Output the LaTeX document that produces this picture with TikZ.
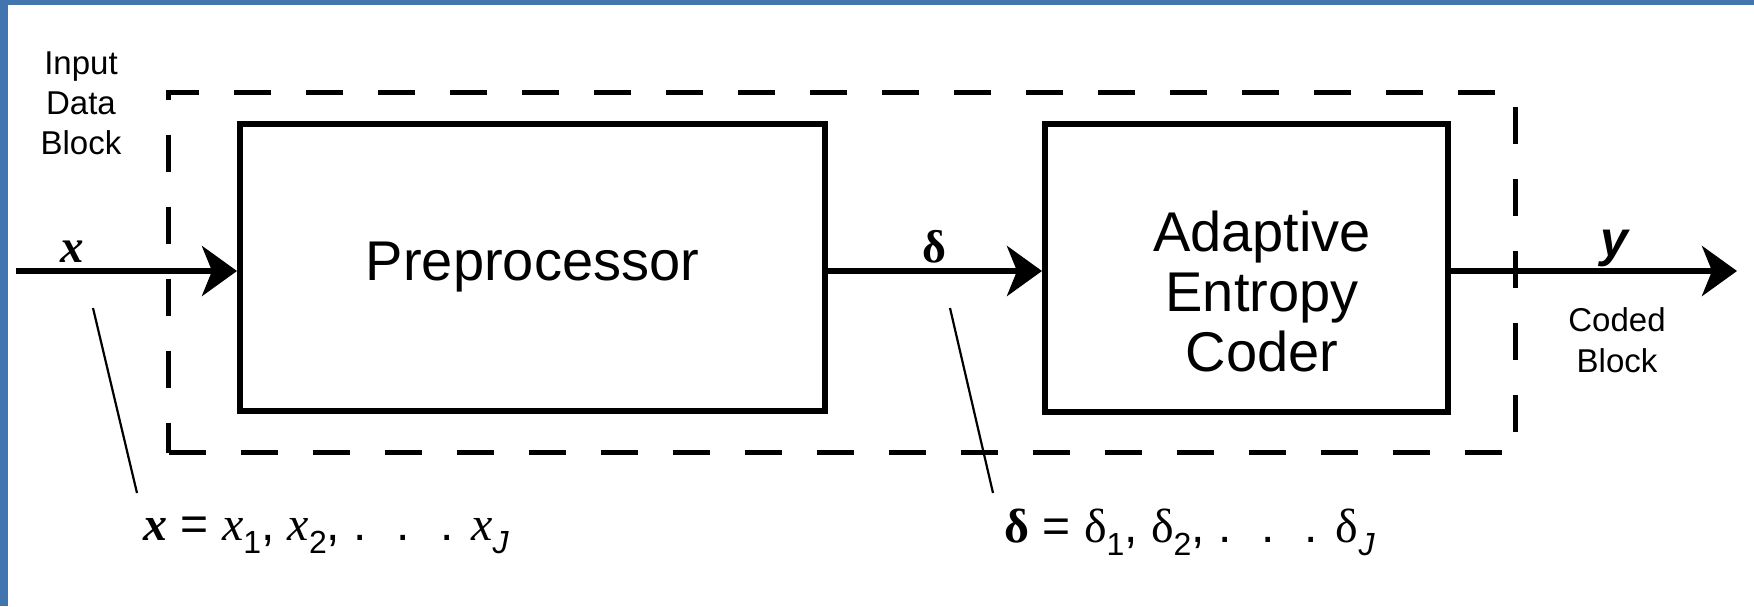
\documentclass[tikz,border=0pt]{standalone}
\usepackage{fontspec}
\setmainfont{Liberation Sans}
\newfontfamily\arl{Liberation Sans}
\newfontfamily\tnr{Liberation Serif}
\usetikzlibrary{arrows.meta}
\definecolor{frameblue}{RGB}{66,116,176}
\newcommand\sbs[1]{\raisebox{-6.5pt}{\fontsize{16}{16}\selectfont\arl #1}}
\tikzset{
  block/.style={draw, line width=3pt, inner sep=0pt, font=\fontsize{28}{30}\selectfont\arl},
  grpbox/.style={draw, line width=2.6pt, dash pattern=on 18.5pt off 17.5pt, inner sep=0pt},
  flow/.style={line width=3pt, -{Stealth[length=17.5pt,width=25pt,inset=5pt]}},
  pointer/.style={line width=1.1pt},
  smalltext/.style={inner sep=0pt, align=center, font=\fontsize{16.5}{20}\selectfont\arl},
  sig/.style={inner sep=0pt, anchor=base},
  formula/.style={inner sep=0pt, anchor=base west, font=\fontsize{24}{24}\selectfont\arl}
}
\begin{document}
\begin{tikzpicture}[x=0.5pt,y=-0.5pt]
\useasboundingbox (0,0) rectangle (1754,606);
\fill[white] (0,0) rectangle (1754,606);
\fill[frameblue] (0,0) rectangle (1754,5);
\fill[frameblue] (0,0) rectangle (8,606);

% group (dashed) box
\node[grpbox, minimum width=673.5pt, minimum height=180pt] (grp) at (842,272.5) {};

% blocks
\node[block, minimum width=292.5pt, minimum height=143.5pt] (pre) at (532.5,267.5) {Preprocessor};
\node[block, minimum width=201.5pt, minimum height=144pt] (aec) at (1246.5,268) {};
\node[inner sep=0pt, align=center, font=\fontsize{28}{30}\selectfont\arl] (aectext) at (1262,291) {Adaptive\\Entropy\\Coder};

% connectors
\coordinate (src) at (16,271);
\coordinate (dst) at (1737,271);
\draw[flow] (src) -- (src -| pre.west);
\draw[flow] (src -| pre.east) -- (src -| aec.west);
\draw[flow] (src -| aec.east) -- (dst);

% labels
\node[smalltext] (inlab) at (81,103) {Input\\Data\\Block};
\node[smalltext, font=\fontsize{16.5}{20.5}\selectfont\arl] (outlab) at (1617,340) {Coded\\Block};
\node[sig, font=\fontsize{23.5}{24}\selectfont\tnr\bfseries\itshape] (xl) at (72,262) {x};
\node[sig, font=\fontsize{23}{24}\selectfont\tnr\bfseries] (dl) at (934,262) {δ};
\node[sig, font=\fontsize{25}{25}\selectfont\arl\bfseries\itshape] (yl) at (1614,256) {y};

% formulas
\node[formula] (xf) at (143,540) {{\tnr\bfseries\itshape x} = {\tnr\itshape x}\sbs{1}, {\tnr\itshape x}\sbs{2}, .\hspace{15pt}.\hspace{15pt}. {\tnr\itshape x}\sbs{\itshape J}};
\node[formula] (df) at (1004,542) {{\tnr\bfseries δ} = {\tnr δ}\sbs{1}, {\tnr δ}\sbs{2}, .\hspace{15pt}.\hspace{15pt}. {\tnr δ}\sbs{\itshape J}};

% pointer lines
\coordinate (p1a) at (93,308);
\coordinate (p1b) at (137,493);
\coordinate (p2a) at (950,308);
\coordinate (p2b) at (993,493);
\draw[pointer] (p1a) -- (p1b);
\draw[pointer] (p2a) -- (p2b);
\end{tikzpicture}
\end{document}
